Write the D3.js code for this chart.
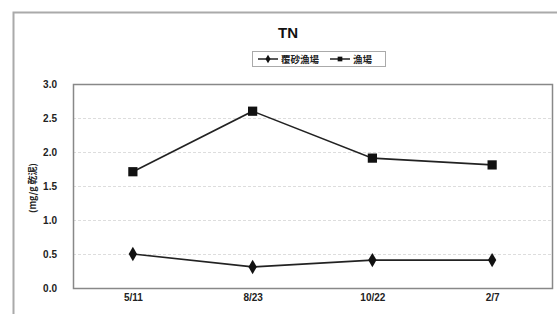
<!DOCTYPE html>
<html><head><meta charset="utf-8">
<script src="https://cdn.jsdelivr.net/npm/d3@7"></script>
<style>body{margin:0;background:#fff}svg{display:block}</style>
</head><body>
<svg id="c" width="557" height="314"></svg>
<script>
const categories = ["5/11", "8/23", "10/22", "2/7"];
const seriesNames = ["覆砂漁場", "漁場"];
const sandCovered = [0.50, 0.31, 0.41, 0.41];
const fishingGround = [1.71, 2.60, 1.91, 1.81];
const yTicks = [0.0, 0.5, 1.0, 1.5, 2.0, 2.5, 3.0];

const svg = d3.select("#c");
const m = {l: 73, r: 552, t: 84, b: 288};
const font = "'Liberation Sans', Arial, sans-serif";
const cjk = "'Noto Sans CJK JP', sans-serif";

// outer frame
svg.append("path").attr("d", "M13.5,314 L13.5,12.5 L557,12.5")
  .attr("fill", "none").attr("stroke", "#aaa").attr("stroke-width", 2);

const x = d3.scalePoint().domain(categories).range([m.l, m.r]).padding(0.5);
const y = d3.scaleLinear().domain([0, 3]).range([m.b, m.t]);

// gridlines
svg.append("g").selectAll("line").data(yTicks.filter(v => v > 0 && v < 3)).join("line")
  .attr("x1", m.l).attr("x2", m.r)
  .attr("y1", d => y(d) + 0.5).attr("y2", d => y(d) + 0.5)
  .attr("stroke", "#ddd").attr("stroke-dasharray", "3,2");

// plot border
svg.append("rect").attr("x", m.l + 0.5).attr("y", m.t + 0.5)
  .attr("width", m.r - m.l).attr("height", m.b - m.t)
  .attr("fill", "none").attr("stroke", "#888").attr("stroke-width", 1.5);

// y axis
const ya = svg.append("g").attr("transform", `translate(${m.l},0)`)
  .call(d3.axisLeft(y).tickValues(yTicks).tickFormat(d3.format(".1f")).tickSize(0).tickPadding(16));
ya.select(".domain").remove();
ya.selectAll("text").attr("font-family", font).attr("font-weight", "bold")
  .attr("font-size", 10).attr("fill", "#222");

// x axis
const xa = svg.append("g").attr("transform", `translate(0,${m.b})`)
  .call(d3.axisBottom(x).tickSize(0).tickPadding(6));
xa.select(".domain").remove();
xa.selectAll("text").attr("font-family", font).attr("font-weight", "bold")
  .attr("font-size", 10).attr("fill", "#222");

// y label
svg.append("text").attr("transform", "translate(36,188) rotate(-90)")
  .attr("text-anchor", "middle").attr("font-family", cjk).attr("font-weight", "bold")
  .attr("font-size", 9).attr("fill", "#222").text("(mg/g 乾泥)");

// title
svg.append("text").attr("x", 288).attr("y", 38).attr("text-anchor", "middle")
  .attr("font-family", font).attr("font-weight", "bold").attr("font-size", 15)
  .attr("fill", "#111").text("TN");

// lines
const line = d3.line().x((d, i) => x(categories[i])).y(d => y(d));
const diamond = d3.symbol().type(d3.symbolDiamond).size(60);
const square = d3.symbol().type(d3.symbolSquare).size(85);

[[sandCovered, diamond], [fishingGround, square]].forEach(([vals, sym]) => {
  svg.append("path").datum(vals).attr("d", line).attr("fill", "none")
    .attr("stroke", "#222").attr("stroke-width", 1.6);
  svg.append("g").selectAll("path").data(vals).join("path")
    .attr("transform", (d, i) => `translate(${x(categories[i])},${y(d)})`)
    .attr("d", sym).attr("fill", "#111");
});

// legend
const lg = svg.append("g");
lg.append("rect").attr("x", 252.5).attr("y", 51.5).attr("width", 133).attr("height", 15)
  .attr("fill", "#fff").attr("stroke", "#aaa");
const items = [
  {name: seriesNames[0], sym: d3.symbol().type(d3.symbolDiamond).size(22), x0: 258},
  {name: seriesNames[1], sym: d3.symbol().type(d3.symbolSquare).size(22), x0: 330}
];
items.forEach(it => {
  lg.append("line").attr("x1", it.x0).attr("x2", it.x0 + 20).attr("y1", 59).attr("y2", 59)
    .attr("stroke", "#222").attr("stroke-width", 1.5);
  lg.append("path").attr("d", it.sym).attr("transform", `translate(${it.x0 + 10},59)`).attr("fill", "#111");
  lg.append("text").attr("x", it.x0 + 23).attr("y", 63).attr("font-family", cjk)
    .attr("font-weight", "bold").attr("font-size", 9.5).attr("fill", "#222").text(it.name);
});
</script>
</body></html>
